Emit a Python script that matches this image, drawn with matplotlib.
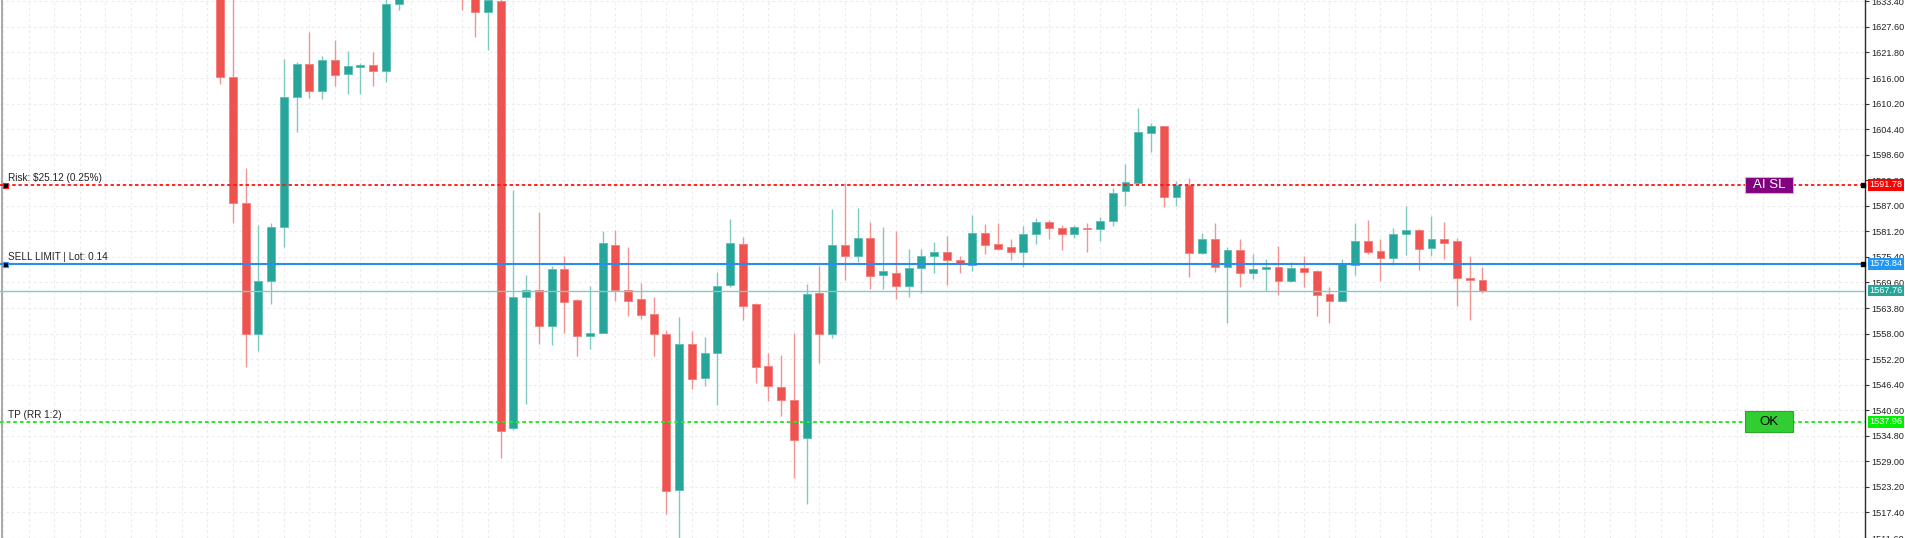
import matplotlib
matplotlib.use('Agg')
import matplotlib.pyplot as plt
import matplotlib.transforms as mtransforms
from matplotlib.patches import Rectangle
import numpy as np

plt.rcParams['font.family'] = ['Liberation Sans', 'DejaVu Sans']

# ---------------- data ----------------
opens = [1641.0, 1616.3, 1587.7, 1558.0, 1570.0, 1582.2, 1611.8, 1619.1, 1613.1, 1620.1,
         1616.9, 1618.5, 1619.0, 1617.6, 1632.8, 1635.0, 1637.5, 1636.0, 1639.5, 1638.0,
         1635.5, 1630.9, 1633.4, 1536.5, 1566.3, 1568.0, 1559.8, 1572.7, 1565.7, 1557.4,
         1558.2, 1578.0, 1568.0, 1565.9, 1562.4, 1557.9, 1522.5, 1555.7, 1547.9, 1553.5,
         1569.0, 1578.3, 1564.6, 1550.6, 1545.9, 1543.0, 1534.2, 1567.1, 1557.8, 1578.0,
         1575.6, 1579.8, 1571.2, 1571.8, 1568.7, 1572.8, 1575.6, 1576.5, 1574.6, 1573.5,
         1580.8, 1578.3, 1577.6, 1576.5, 1580.5, 1583.4, 1581.9, 1580.5, 1581.9, 1581.7,
         1583.6, 1590.4, 1592.2, 1603.6, 1605.1, 1589.1, 1591.8, 1576.3, 1579.4, 1573.2,
         1576.9, 1571.7, 1572.6, 1573.2, 1569.9, 1572.9, 1572.1, 1566.9, 1565.5, 1573.5,
         1579.1, 1576.8, 1575.1, 1580.5, 1581.4, 1577.5, 1579.4, 1578.9, 1570.7, 1570.1]
highs = [1643.0, 1636.0, 1595.5, 1582.7, 1583.2, 1620.4, 1619.6, 1626.5, 1621.1, 1624.6,
         1622.1, 1619.4, 1621.9, 1634.5, 1636.0, 1639.0, 1640.0, 1641.0, 1641.5, 1639.5,
         1637.0, 1634.6, 1634.2, 1590.6, 1571.4, 1585.6, 1573.3, 1575.5, 1565.9, 1568.8,
         1581.2, 1581.5, 1577.7, 1569.4, 1566.4, 1558.7, 1561.8, 1558.6, 1557.2, 1571.9,
         1584.0, 1580.0, 1564.9, 1553.7, 1553.1, 1558.2, 1569.3, 1573.3, 1586.2, 1592.2,
         1586.5, 1583.4, 1582.1, 1581.2, 1577.3, 1577.3, 1578.7, 1580.1, 1575.6, 1584.8,
         1582.9, 1583.2, 1579.4, 1582.5, 1584.3, 1583.8, 1582.7, 1582.7, 1583.0, 1584.4,
         1591.0, 1596.4, 1609.1, 1605.9, 1605.1, 1592.7, 1593.2, 1580.9, 1583.0, 1577.7,
         1579.5, 1576.0, 1574.9, 1577.8, 1574.3, 1575.5, 1572.5, 1568.5, 1574.9, 1583.2,
         1583.8, 1579.4, 1581.9, 1586.9, 1581.7, 1584.6, 1583.4, 1579.8, 1575.5, 1573.2]
lows = [1614.7, 1583.1, 1550.4, 1554.1, 1564.6, 1577.7, 1603.7, 1611.4, 1611.3, 1614.3,
        1612.4, 1612.4, 1614.1, 1615.0, 1631.4, 1634.2, 1635.0, 1635.5, 1636.5, 1631.4,
        1625.4, 1622.3, 1529.7, 1536.2, 1542.1, 1555.7, 1555.3, 1558.2, 1553.0, 1554.5,
        1558.2, 1565.5, 1561.9, 1561.4, 1553.0, 1517.1, 1510.5, 1545.4, 1546.2, 1541.7,
        1568.5, 1561.0, 1546.8, 1542.6, 1539.4, 1525.2, 1519.4, 1551.3, 1557.1, 1570.2,
        1574.2, 1568.1, 1568.1, 1565.8, 1566.2, 1567.2, 1571.8, 1569.1, 1571.8, 1572.2,
        1576.1, 1576.9, 1574.7, 1573.0, 1578.4, 1579.5, 1577.0, 1579.6, 1576.6, 1579.1,
        1582.5, 1586.9, 1591.8, 1599.2, 1586.7, 1586.9, 1570.8, 1576.0, 1572.0, 1560.3,
        1568.5, 1570.4, 1567.6, 1566.8, 1569.7, 1568.5, 1562.1, 1560.3, 1565.5, 1571.2,
        1576.1, 1569.9, 1573.5, 1575.9, 1572.4, 1575.6, 1574.9, 1564.2, 1561.1, 1567.3]
closes = [1616.2, 1587.6, 1558.0, 1570.0, 1582.3, 1611.6, 1619.1, 1613.1, 1620.1, 1616.8,
          1618.7, 1619.0, 1617.5, 1632.8, 1635.0, 1637.5, 1636.0, 1639.5, 1638.0, 1635.5,
          1630.9, 1633.6, 1535.9, 1566.2, 1568.0, 1559.8, 1572.7, 1565.1, 1557.4, 1558.2,
          1578.5, 1567.9, 1565.5, 1562.3, 1557.8, 1522.3, 1555.7, 1547.7, 1553.5, 1568.9,
          1578.5, 1564.3, 1550.5, 1546.0, 1543.0, 1533.9, 1566.9, 1557.8, 1578.0, 1575.6,
          1579.8, 1571.1, 1572.1, 1568.7, 1572.9, 1575.6, 1576.5, 1574.6, 1573.9, 1580.8,
          1578.2, 1577.3, 1576.5, 1580.7, 1583.4, 1581.9, 1580.5, 1582.1, 1581.7, 1583.6,
          1590.0, 1592.5, 1603.7, 1605.1, 1589.1, 1591.8, 1576.3, 1579.4, 1573.2, 1576.9,
          1571.7, 1572.7, 1573.2, 1569.9, 1572.9, 1572.0, 1566.8, 1565.5, 1573.9, 1579.1,
          1576.6, 1575.1, 1580.7, 1581.4, 1577.3, 1579.4, 1578.6, 1570.6, 1570.1, 1567.76]

price_ticks = [1633.40, 1627.60, 1621.80, 1616.00, 1610.20, 1604.40, 1598.60, 1592.80,
               1587.00, 1581.20, 1575.40, 1569.60, 1563.80, 1558.00, 1552.20, 1546.40,
               1540.60, 1534.80, 1529.00, 1523.20, 1517.40, 1511.60]

sl_price = 1591.78
entry_price = 1573.84
current_price = 1567.76
tp_price = 1537.96
risk_text = "Risk: $25.12 (0.25%)"
entry_text = "SELL LIMIT | Lot: 0.14"
tp_text = "TP (RR 1:2)"
btn_sl_text = "AI SL"
btn_ok_text = "OK"

# ---------------- layout ----------------
W, H = 1905, 538
AX_W = 1865
SPACING = 12.8
FIRST = 221.0
PX_PER_UNIT = 4.4185
Y_TOP = 1633.71

fig = plt.figure(figsize=(W / 100, H / 100), dpi=100)
fig.patch.set_facecolor('white')
ax = fig.add_axes([0, 0, AX_W / W, 1])
ax.set_facecolor('white')

n = len(opens)
xs = np.arange(n)
o = np.array(opens); hh = np.array(highs); ll = np.array(lows); c = np.array(closes)

ax.set_xlim(-FIRST / SPACING, (AX_W - FIRST) / SPACING)
ax.set_ylim(Y_TOP - H / PX_PER_UNIT, Y_TOP)

UP = '#26a69a'
DN = '#ef5350'
up = c >= o
body_col = np.where(up, UP, DN)
edge_col = np.where(up, '#5cbdb3', '#f47d7b')
wick_col = np.where(up, '#7fcbc2', '#f39392')

# grid
ax.set_axisbelow(True)
grid_x = np.arange(np.ceil(-FIRST / SPACING), (AX_W - FIRST) / SPACING + 1)
grid_x = grid_x[(grid_x.astype(int) % 2) != 0]
ax.set_xticks(grid_x)
ax.tick_params(axis='x', length=0, labelbottom=False)
ax.yaxis.tick_right()
ax.set_yticks(price_ticks)
ax.set_yticklabels([f"{v:.2f}" for v in price_ticks])
ax.tick_params(axis='y', direction='out', length=3, width=0.8, color='#333333',
               labelsize=6.6, pad=1.3, labelcolor='#222222')
ax.grid(True, color='#ececec', linestyle=(0, (2.5, 2.5)), linewidth=0.8)

for s in ['top', 'bottom']:
    ax.spines[s].set_visible(False)
ax.spines['right'].set_color('#2b2b2b')
ax.spines['right'].set_linewidth(1.0)
ax.spines['left'].set_position(('axes', 2.0 / AX_W))
ax.spines['left'].set_color('#9a9a9a')
ax.spines['left'].set_linewidth(1.2)

# candles
ax.vlines(xs, ll, hh, colors=wick_col, linewidth=1.0, zorder=2)
bottoms = np.minimum(o, c)
heights = np.maximum(np.abs(c - o), 0.3)
ax.bar(xs, heights, bottom=bottoms, width=0.62, color=body_col, edgecolor=edge_col,
       linewidth=0.6, zorder=3)

# level lines
ax.axhline(sl_price, color='#ff1414', linewidth=1.3, linestyle=(0, (1.9, 1.5)), zorder=4)
ax.axhline(entry_price, color='#2a8cf0', linewidth=1.5, zorder=4)
ax.axhline(current_price, color='#80cbc4', linewidth=1.0, zorder=4)
ax.axhline(tp_price, color='#22ee22', linewidth=1.4, linestyle=(0, (1.9, 1.5)), zorder=4)

trans = mtransforms.blended_transform_factory(ax.transAxes, ax.transData)

# level texts
for txt, lvl in [(risk_text, sl_price), (entry_text, entry_price), (tp_text, tp_price)]:
    ax.annotate(txt, xy=(8.0 / AX_W, lvl), xycoords=trans, xytext=(0, 1.0),
                textcoords='offset points', fontsize=7.2, color='#222222',
                ha='left', va='bottom', zorder=6)

# left markers
ax.plot([5.0 / AX_W], [sl_price], marker='s', ms=3.6, mfc='black', mec='#ff1414', mew=0.8,
        transform=trans, clip_on=False, zorder=7)
ax.plot([5.0 / AX_W], [entry_price], marker='s', ms=3.6, mfc='black', mec='#2a8cf0', mew=0.8,
        transform=trans, clip_on=False, zorder=7)

# right axis markers
for lvl in [sl_price, entry_price]:
    ax.plot([1862.5 / AX_W], [lvl], marker='s', ms=3.2, mfc='black', mec='black',
            transform=trans, clip_on=False, zorder=7)

# price label boxes on axis
box_specs = [(sl_price, '#ff0000', 'white'),
             (entry_price, '#2196f3', 'white'),
             (current_price, '#26a69a', 'white'),
             (tp_price, '#00ee00', 'white')]
for lvl, fc, tc in box_specs:
    ax.annotate(f"{lvl:.2f}", xy=(1869.5 / AX_W, lvl), xycoords=trans,
                fontsize=6.6, color=tc, ha='left', va='center', zorder=8,
                annotation_clip=False,
                bbox=dict(boxstyle='square,pad=0.15', fc=fc, ec='none'))

# buttons
def button(level, label, fc, ec, tc, h_px):
    x0 = 1745.0 / AX_W
    w = 48.0 / AX_W
    h = h_px / PX_PER_UNIT
    ax.add_patch(Rectangle((x0, level - h / 2), w, h, transform=trans, facecolor=fc,
                           edgecolor=ec, linewidth=0.8, zorder=9, clip_on=False))
    ax.text(x0 + w / 2, level, label, transform=trans, ha='center', va='center',
            fontsize=9.5, color=tc, zorder=10)

button(sl_price, btn_sl_text, '#800080', '#c8b4c8', 'white', 16)
button(tp_price, btn_ok_text, '#32cd32', '#2aa82a', 'black', 21)

fig.savefig('out.png', dpi=100, facecolor='white')
